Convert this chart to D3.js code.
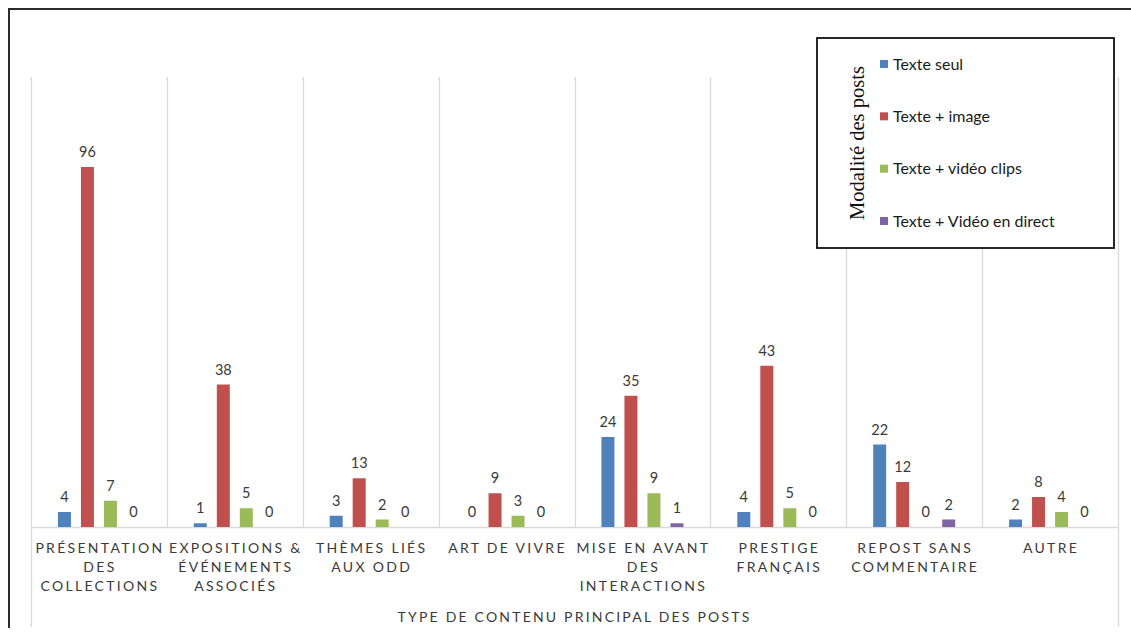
<!DOCTYPE html>
<html>
<head>
<meta charset="utf-8">
<script src="https://cdn.jsdelivr.net/npm/d3@7"></script>
<style>
  html, body { margin: 0; padding: 0; background: #fff; }
  svg { display: block; }
</style>
</head>
<body>
<svg id="chart" width="1131" height="632"></svg>
<script>
// Content types (one entry per category, already split into label lines)
const categories = [
  ["PRÉSENTATION", "DES", "COLLECTIONS"],
  ["EXPOSITIONS &", "ÉVÉNEMENTS", "ASSOCIÉS"],
  ["THÈMES LIÉS", "AUX ODD"],
  ["ART DE VIVRE"],
  ["MISE EN AVANT", "DES", "INTERACTIONS"],
  ["PRESTIGE", "FRANÇAIS"],
  ["REPOST SANS", "COMMENTAIRE"],
  ["AUTRE"]
];

const seriesNames = ["Texte seul", "Texte + image", "Texte + vidéo clips", "Texte + Vidéo en direct"];
const seriesColors = ["#4F81BD", "#C0504D", "#9BBB59", "#8064A2"];

// Post counts per series, in category order
const texteSeul      = [4, 1, 3, 0, 24, 4, 22, 2];
const texteImage     = [96, 38, 13, 9, 35, 43, 12, 8];
const texteVideoClip = [7, 5, 2, 3, 9, 5, 0, 4];
const texteDirect    = [0, 0, 0, 0, 1, 0, 2, 0];
const seriesValues = [texteSeul, texteImage, texteVideoClip, texteDirect];

const axisTitle = "TYPE DE CONTENU PRINCIPAL DES POSTS";
const legendTitle = "Modalité des posts";

const svg = d3.select("#chart");
const sansFont = "Lato, 'Open Sans', sans-serif";
const textColor = "#3a3a3a";

const plot = { left: 31, right: 1118, top: 77, bottom: 527 };

const keys = categories.map((c, i) => i);
const x0 = d3.scaleBand().domain(keys).range([plot.left, plot.right]).padding(0);
const groupSpan = 82;
const x1 = d3.scaleBand()
  .domain(d3.range(seriesNames.length))
  .range([(x0.bandwidth() - groupSpan) / 2, (x0.bandwidth() + groupSpan) / 2])
  .paddingInner(0.435)
  .paddingOuter(0);
const y = d3.scaleLinear().domain([0, 120]).range([plot.bottom, plot.top]);

// Outer frame (top and left edges)
svg.append("path")
  .attr("d", `M9,628 L9,9 L1131,9`)
  .attr("fill", "none")
  .attr("stroke", "#2b2b2b")
  .attr("stroke-width", 2);

// Vertical category separators
const grid = svg.append("g").attr("stroke", "#d9d9d9").attr("stroke-width", 1.3);
keys.forEach(k => {
  if (k === 0) return;
  const gx = Math.round(x0(k)) + 0.5;
  grid.append("line").attr("x1", gx).attr("x2", gx).attr("y1", plot.top).attr("y2", plot.bottom);
});
// Plot side edges extend down through the label area
[plot.left, plot.right].forEach(ex => {
  grid.append("line").attr("x1", ex + 0.5).attr("x2", ex + 0.5).attr("y1", plot.top).attr("y2", 627);
});
// Category axis baseline
grid.append("line")
  .attr("x1", plot.left).attr("x2", plot.right)
  .attr("y1", plot.bottom + 0.5).attr("y2", plot.bottom + 0.5);

// Bars and value labels
const groups = svg.append("g").selectAll("g")
  .data(keys)
  .join("g")
  .attr("transform", k => `translate(${x0(k)},0)`);

groups.selectAll("rect")
  .data(k => seriesValues.map((vals, s) => ({ s, v: vals[k] })))
  .join("rect")
  .attr("x", d => x1(d.s))
  .attr("width", x1.bandwidth())
  .attr("y", d => y(d.v))
  .attr("height", d => y(0) - y(d.v))
  .attr("fill", d => seriesColors[d.s]);

groups.selectAll("text")
  .data(k => seriesValues.map((vals, s) => ({ s, v: vals[k] })))
  .join("text")
  .attr("x", d => x1(d.s) + x1.bandwidth() / 2)
  .attr("y", d => y(d.v) - 10)
  .attr("text-anchor", "middle")
  .attr("font-family", sansFont)
  .attr("font-size", 14.5)
  .attr("fill", textColor)
  .text(d => d.v);

// Category labels
const catLabels = svg.append("g")
  .attr("font-family", sansFont)
  .attr("font-size", 14)
  .attr("fill", textColor)
  .attr("letter-spacing", "2.3px")
  .attr("text-anchor", "middle");
keys.forEach(k => {
  const t = catLabels.append("text");
  categories[k].forEach((line, i) => {
    t.append("tspan")
      .attr("x", x0(k) + x0.bandwidth() / 2 + 1)
      .attr("y", 553 + i * 19)
      .text(line);
  });
});

// Axis title
svg.append("text")
  .attr("x", (plot.left + plot.right) / 2)
  .attr("y", 622)
  .attr("text-anchor", "middle")
  .attr("font-family", sansFont)
  .attr("font-size", 14)
  .attr("letter-spacing", "2.2px")
  .attr("fill", textColor)
  .text(axisTitle);

// Legend
const legend = svg.append("g");
legend.append("rect")
  .attr("x", 817).attr("y", 38)
  .attr("width", 297).attr("height", 210)
  .attr("fill", "#fff")
  .attr("stroke", "#111")
  .attr("stroke-width", 1.8);

legend.append("text")
  .attr("transform", "translate(864,143) rotate(-90)")
  .attr("text-anchor", "middle")
  .attr("font-family", "'Liberation Serif', 'DejaVu Serif', serif")
  .attr("font-size", 20.5)
  .attr("fill", "#111")
  .text(legendTitle);

const legendY = d3.scalePoint().domain(d3.range(seriesNames.length)).range([64, 221]);
const items = legend.selectAll("g.item")
  .data(seriesNames)
  .join("g")
  .attr("class", "item")
  .attr("transform", (d, i) => `translate(880,${legendY(i)})`);
items.append("rect")
  .attr("x", 0).attr("y", -4)
  .attr("width", 8).attr("height", 8)
  .attr("fill", (d, i) => seriesColors[i]);
items.append("text")
  .attr("x", 13).attr("y", 5.5)
  .attr("font-family", sansFont)
  .attr("font-size", 16)
  .attr("fill", "#1a1a1a")
  .text(d => d);
</script>
</body>
</html>
